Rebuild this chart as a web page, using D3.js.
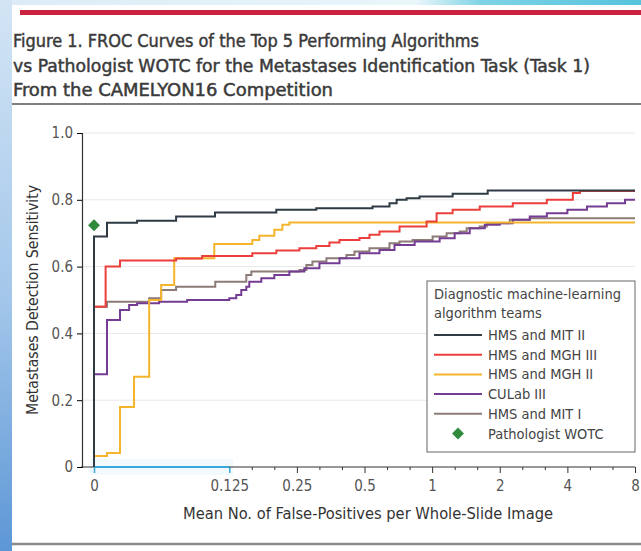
<!DOCTYPE html>
<html>
<head>
<meta charset="utf-8">
<script src="https://cdn.jsdelivr.net/npm/d3@7/dist/d3.min.js"></script>
<style>
  html, body { margin: 0; padding: 0; background: #fff; }
  svg { display: block; }
  text { font-family: "Liberation Sans Narrow", "DejaVu Sans Condensed", "Roboto Condensed", "Liberation Sans", sans-serif; }
</style>
</head>
<body>
<svg id="chart" width="641" height="551"></svg>
<script>
// ---------------- DATA ----------------
const titleLines = [
  "Figure 1. FROC Curves of the Top 5 Performing Algorithms",
  "vs Pathologist WOTC for the Metastases Identification Task (Task 1)",
  "From the CAMELYON16 Competition"
];
const xAxisTitle = "Mean No. of False-Positives per Whole-Slide Image";
const yAxisTitle = "Metastases Detection Sensitivity";
const legendTitle = ["Diagnostic machine-learning", "algorithm teams"];

const xTickValues = [0, 0.125, 0.25, 0.5, 1, 2, 4, 8];
const xTickLabels = ["0", "0.125", "0.25", "0.5", "1", "2", "4", "8"];
const yTickValues = [0, 0.2, 0.4, 0.6, 0.8, 1.0];
const yTickLabels = ["0", "0.2", "0.4", "0.6", "0.8", "1.0"];

const seriesNames = ["HMS and MIT II", "HMS and MGH III", "HMS and MGH II", "CULab III", "HMS and MIT I"];

const hmsMit2FP   = [0, 0, 0.0357, 0.0486, 0.0725, 0.108, 0.2025, 0.305, 0.543, 0.646, 0.695, 0.77, 0.879, 1.234, 1.768, 8];
const hmsMit2Sens = [0, 0.69, 0.731, 0.737, 0.75, 0.762, 0.77, 0.775, 0.78, 0.79, 0.80, 0.805, 0.81, 0.818, 0.828, 0.828];

const hmsMgh3FP   = [0, 0.0352, 0.0408, 0.0725, 0.0947, 0.1583, 0.2025, 0.2565, 0.305, 0.349, 0.387, 0.475, 0.526, 0.583, 0.716, 0.945, 1.047, 1.234, 1.629, 2.286, 3.24, 4.23, 4.55, 8];
const hmsMgh3Sens = [0.48, 0.60, 0.618, 0.624, 0.632, 0.64, 0.648, 0.655, 0.662, 0.672, 0.68, 0.686, 0.695, 0.705, 0.72, 0.735, 0.76, 0.77, 0.78, 0.79, 0.80, 0.82, 0.826, 0.826];

const hmsMgh2FP   = [0, 0.0357, 0.0408, 0.0471, 0.055, 0.0622, 0.0711, 0.1072, 0.1583, 0.1701, 0.1984, 0.2154, 0.2315, 8];
const hmsMgh2Sens = [0.033, 0.042, 0.18, 0.27, 0.50, 0.545, 0.625, 0.668, 0.68, 0.692, 0.71, 0.725, 0.732, 0.732];

const culab3FP   = [0, 0.0357, 0.0408, 0.0448, 0.0486, 0.0609, 0.0812, 0.125, 0.1343, 0.1414, 0.1489, 0.1535, 0.1736, 0.1984, 0.2315, 0.270, 0.315, 0.387, 0.475, 0.583, 0.680, 0.836, 1.08, 1.26, 1.47, 1.715, 2.0, 2.286, 2.721, 3.24, 4.0, 4.89, 6.0, 7.22, 8];
const culab3Sens = [0.278, 0.44, 0.47, 0.485, 0.49, 0.495, 0.50, 0.505, 0.515, 0.53, 0.54, 0.555, 0.565, 0.575, 0.585, 0.595, 0.61, 0.625, 0.64, 0.65, 0.665, 0.675, 0.685, 0.70, 0.715, 0.725, 0.73, 0.74, 0.75, 0.76, 0.77, 0.78, 0.79, 0.80, 0.80];

const hmsMit1FP   = [0, 0.0357, 0.055, 0.0622, 0.0725, 0.1083, 0.1489, 0.1567, 0.2565, 0.2756, 0.2932, 0.3385, 0.4156, 0.451, 0.526, 0.646, 0.716, 0.8185, 1.005, 1.16, 1.326, 1.425, 1.629, 1.75, 2.216, 2.721, 8];
const hmsMit1Sens = [0.48, 0.495, 0.505, 0.53, 0.54, 0.555, 0.575, 0.585, 0.59, 0.605, 0.615, 0.625, 0.635, 0.645, 0.655, 0.67, 0.675, 0.68, 0.69, 0.70, 0.705, 0.715, 0.72, 0.73, 0.74, 0.745, 0.745];

const pathologistName = "Pathologist WOTC";
const pathologistFP = [0];
const pathologistSens = [0.724];

const seriesColors = ["#2e3b44", "#ec3f3b", "#f4b52c", "#753c93", "#8c7b76"];

// ---------------- LAYOUT ----------------
const svg = d3.select("#chart");
const W = 641, H = 551;
const plotLeft = 82, plotRight = 635, plotTop = 133, plotBottom = 467;

// page decoration
const defs = svg.append("defs");
const lg = defs.append("linearGradient").attr("id", "leftStrip").attr("x1", 0).attr("y1", 0).attr("x2", 0).attr("y2", 1);
lg.append("stop").attr("offset", "0%").attr("stop-color", "#d3e5f5");
lg.append("stop").attr("offset", "55%").attr("stop-color", "#a2c6ea");
lg.append("stop").attr("offset", "100%").attr("stop-color", "#5d97d6");
const tg = defs.append("linearGradient").attr("id", "topStrip").attr("x1", 0).attr("y1", 0).attr("x2", 1).attr("y2", 0);
tg.append("stop").attr("offset", "0%").attr("stop-color", "#dcebf6");
tg.append("stop").attr("offset", "65%").attr("stop-color", "#e9f6fa");
tg.append("stop").attr("offset", "75%").attr("stop-color", "#7fd3e6");
tg.append("stop").attr("offset", "100%").attr("stop-color", "#56c3dc");

svg.append("rect").attr("x", 0).attr("y", 0).attr("width", W).attr("height", H).attr("fill", "#fff");
svg.append("rect").attr("x", 0).attr("y", 0).attr("width", W).attr("height", 5).attr("fill", "url(#topStrip)");
svg.append("rect").attr("x", 0).attr("y", 0).attr("width", 12).attr("height", H).attr("fill", "url(#leftStrip)");
svg.append("rect").attr("x", 20).attr("y", 10).attr("width", W - 20).attr("height", 5).attr("fill", "#c8223f");

// title
const titleWidths = [466, 577, 320];
const titleG = svg.append("g");
titleLines.forEach((t, i) => {
  titleG.append("text")
    .attr("x", 13).attr("y", 47 + i * 24.5)
    .attr("font-size", 18).attr("font-weight", 400)
    .attr("fill", "#3a3a3a").attr("stroke", "#3a3a3a").attr("stroke-width", 0.45)
    .attr("textLength", titleWidths[i]).attr("lengthAdjust", "spacingAndGlyphs")
    .text(t);
});
svg.append("line").attr("x1", 12).attr("x2", W).attr("y1", 104).attr("y2", 104).attr("stroke", "#555").attr("stroke-width", 1.5);
svg.append("line").attr("x1", 12).attr("x2", W).attr("y1", 544).attr("y2", 544).attr("stroke", "#8a8a8a").attr("stroke-width", 2.5);

// scales
const x = d3.scaleLog().base(2).domain([1 / 32, 8]).range([94, plotRight]).clamp(true);
const y = d3.scaleLinear().domain([0, 1]).range([plotBottom, plotTop]);

// gridlines
svg.append("g").selectAll("line").data(yTickValues.filter(d => d > 0)).join("line")
  .attr("x1", plotLeft).attr("x2", plotRight)
  .attr("y1", d => y(d)).attr("y2", d => y(d))
  .attr("stroke", "#e8e8e8").attr("stroke-width", 1);

// faint haze near the 0-0.125 range
svg.append("rect").attr("x", x(0) - 4).attr("y", y(0) - 8).attr("width", x(0.125) - x(0) + 8).attr("height", 16)
  .attr("fill", "#f2fafd");

// axes
const minorTicks = [];
for (let k = -3; k < 3; k++) {
  minorTicks.push(Math.pow(2, k + 1 / 3), Math.pow(2, k + 2 / 3));
}

const xAxis = svg.append("g").attr("transform", `translate(0,${plotBottom})`)
  .call(d3.axisBottom(x).tickValues(xTickValues).tickSize(6).tickPadding(7)
    .tickFormat((d, i) => xTickLabels[i]));
xAxis.select(".domain").remove();
xAxis.selectAll("text").attr("font-size", 15).attr("fill", "#555");
xAxis.selectAll(".tick line").attr("stroke", (d) => d <= 0.125 ? "#3aa6dc" : "#333").attr("stroke-width", d => d <= 0.125 ? 1.5 : 1);

const xMinor = svg.append("g").attr("transform", `translate(0,${plotBottom})`)
  .call(d3.axisBottom(x).tickValues(minorTicks).tickSize(3).tickFormat(""));
xMinor.select(".domain").remove();
xMinor.selectAll(".tick line").attr("stroke", "#333");

svg.append("line").attr("x1", plotLeft - 1).attr("x2", plotRight).attr("y1", plotBottom).attr("y2", plotBottom)
  .attr("stroke", "#333").attr("stroke-width", 1.2);

const yAxis = svg.append("g").attr("transform", `translate(${plotLeft},0)`)
  .call(d3.axisLeft(y).tickValues(yTickValues).tickSize(5).tickPadding(4)
    .tickFormat((d, i) => yTickLabels[i]));
yAxis.select(".domain").attr("stroke", "#333").attr("stroke-width", 1.2);
yAxis.selectAll("text").attr("font-size", 15).attr("fill", "#555");

// cyan marker line 0 -> 0.125
svg.append("line").attr("x1", x(0)).attr("x2", x(0.125)).attr("y1", y(0)).attr("y2", y(0))
  .attr("stroke", "#3aa6dc").attr("stroke-width", 2.2);

// axis titles
svg.append("text").attr("x", 368).attr("y", 519).attr("text-anchor", "middle")
  .attr("font-size", 15.5).attr("fill", "#333")
  .attr("textLength", 370).attr("lengthAdjust", "spacingAndGlyphs").text(xAxisTitle);
svg.append("text").attr("transform", "translate(38,300) rotate(-90)").attr("text-anchor", "middle")
  .attr("font-size", 15).attr("fill", "#333")
  .attr("textLength", 230).attr("lengthAdjust", "spacingAndGlyphs").text(yAxisTitle);

// series
const seriesData = [
  [hmsMit2FP, hmsMit2Sens],
  [hmsMgh3FP, hmsMgh3Sens],
  [hmsMgh2FP, hmsMgh2Sens],
  [culab3FP, culab3Sens],
  [hmsMit1FP, hmsMit1Sens]
].map(([fx, sy], i) => ({ name: seriesNames[i], color: seriesColors[i], pts: fx.map((v, j) => [v, sy[j]]) }));

const line = d3.line().x(d => x(d[0])).y(d => y(d[1])).curve(d3.curveStepAfter);
const drawOrder = [4, 3, 2, 1, 0];
svg.append("g").selectAll("path").data(drawOrder.map(i => seriesData[i])).join("path")
  .attr("d", d => line(d.pts))
  .attr("fill", "none")
  .attr("stroke", d => d.color)
  .attr("stroke-width", 2)
  .attr("stroke-linejoin", "miter");

// pathologist
const diamond = d3.symbol().type(d3.symbolDiamond2).size(90);
svg.append("g").selectAll("path").data(pathologistFP.map((v, i) => [v, pathologistSens[i]])).join("path")
  .attr("d", diamond)
  .attr("transform", d => `translate(${x(d[0])},${y(d[1])})`)
  .attr("fill", "#2f8a3c");

// legend
const lgX = 427, lgY = 281, lgW = 208, lgH = 171;
const legend = svg.append("g");
legend.append("rect").attr("x", lgX).attr("y", lgY).attr("width", lgW).attr("height", lgH)
  .attr("fill", "#fff").attr("stroke", "#666").attr("stroke-width", 1);
legendTitle.forEach((t, i) => {
  legend.append("text").attr("x", lgX + 7).attr("y", lgY + 18 + i * 19)
    .attr("font-size", 14.5).attr("fill", "#444").text(t);
});
const entries = seriesData.map(d => ({ name: d.name, color: d.color, type: "line" }))
  .concat([{ name: pathologistName, color: "#2f8a3c", type: "diamond" }]);
entries.forEach((e, i) => {
  const cy = lgY + 54 + i * 19.7;
  if (e.type === "line") {
    legend.append("line").attr("x1", lgX + 7).attr("x2", lgX + 55).attr("y1", cy).attr("y2", cy)
      .attr("stroke", e.color).attr("stroke-width", 2);
  } else {
    legend.append("path").attr("d", diamond).attr("transform", `translate(${lgX + 31},${cy})`).attr("fill", e.color);
  }
  legend.append("text").attr("x", lgX + 61).attr("y", cy + 5)
    .attr("font-size", 14.5).attr("fill", "#444").text(e.name);
});
</script>
</body>
</html>
